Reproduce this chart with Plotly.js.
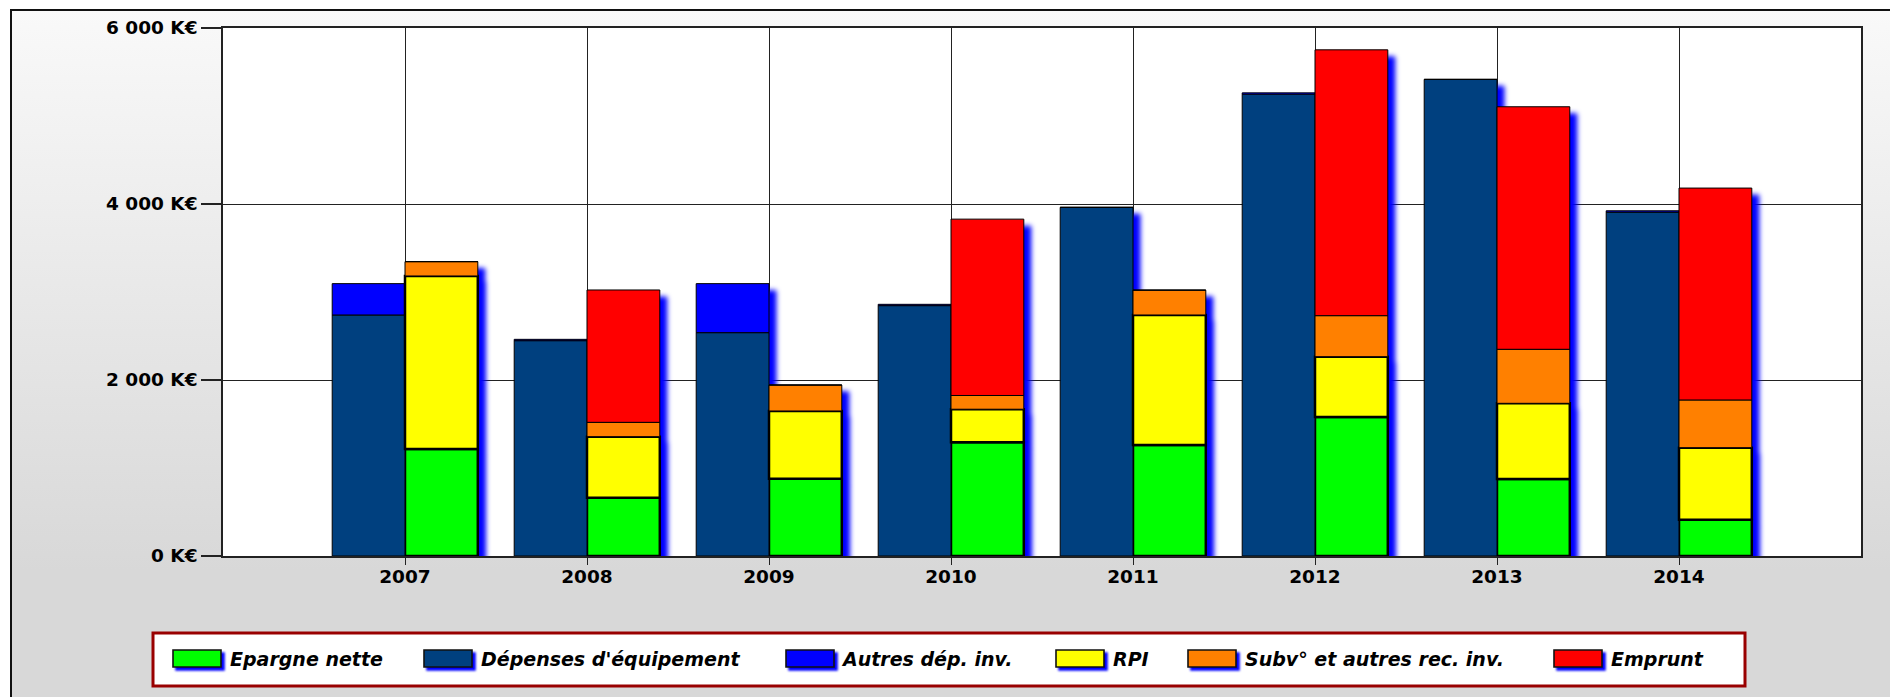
<!DOCTYPE html>
<html>
<head>
<meta charset="utf-8">
<script src="https://cdn.plot.ly/plotly-3.0.1.min.js"></script>
<style>
  html, body { margin:0; padding:0; background:#ffffff; overflow:hidden; width:1890px; height:697px; }
  #frame { position:absolute; left:10px; top:9px; width:1880px; height:688px; box-sizing:border-box;
           border-left:2px solid #111; border-top:2px solid #111;
           background:linear-gradient(to bottom, #f9f9f9 0px, #d8d8d8 560px, #d8d8d8 100%); }
  #chart { position:absolute; left:0; top:0; width:1890px; height:697px; }
  .cartesianlayer .plot, .barlayer .trace, .barlayer .points { clip-path:none !important; }
  .barlayer { filter: drop-shadow(7px 7px 2.5px #0000ff); }
  .legendsymbols { display:none; }
  .layer-above .shapelayer path { filter: drop-shadow(3px 3px 1px #0000ff); }
</style>
</head>
<body>
<div id="frame"></div>
<div id="chart"></div>
<script>
const years = ['2007','2008','2009','2010','2011','2012','2013','2014'];
const epargneNette = [1216, 663, 879, 1294, 1261, 1580, 874, 412];
const depensesEquipement = [2739, 2447, 2538, 2845, 3962, 5248, 5416, 3908];
const autresDepInv = [356, 15, 557, 15, 0, 15, 0, 15];
const rpi = [1966, 693, 769, 374, 1478, 685, 861, 819];
const subvAutresRec = [163, 163, 295, 156, 282, 466, 614, 542];
const emprunt = [0, 1504, 0, 2004, 0, 3021, 2756, 2408];

const yTickVals = [0, 2000, 4000, 6000];
const yTickText = ['0 K€', '2 000 K€', '4 000 K€', '6 000 K€'];

const addArr = (a, b) => a.map((v, i) => v + b[i]);
const zeros = years.map(() => 0);
const baseRpi = epargneNette.slice();
const baseSubv = addArr(baseRpi, rpi);
const baseEmprunt = addArr(baseSubv, subvAutresRec);

const W = 0.4;
function bar(name, y, base, offset, color, lw, legend) {
  return {
    type: 'bar', name: name, x: years, y: y, base: base, offset: offset, width: W,
    marker: { color: color, line: { color: '#000000', width: lw } },
    legend: legend, hoverinfo: 'skip'
  };
}

const traces = [
  bar('Epargne nette', epargneNette, zeros, 0, '#00ff00', 2.5, 'legend'),
  bar("Dépenses d'équipement", depensesEquipement, zeros, -W, '#00407f', 1, 'legend2'),
  bar('Autres dép. inv.', autresDepInv, depensesEquipement, -W, '#0000ff', 1, 'legend3'),
  bar('RPI', rpi, baseRpi, 0, '#ffff00', 2.5, 'legend4'),
  bar('Subv° et autres rec. inv.', subvAutresRec, baseSubv, 0, '#ff8000', 1, 'legend5'),
  bar('Emprunt', emprunt, baseEmprunt, 0, '#ff0000', 1, 'legend6')
];

const plotL = 223, plotR = 1861, plotT = 28, plotB = 556;
const pw = plotR - plotL, ph = plotB - plotT;
const px2x = p => (p - plotL) / pw;
const px2y = p => (plotB - p) / ph;

const legendFont = { family: 'DejaVu Sans', size: 19, color: '#000', weight: 'bold', style: 'italic' };
const swatchLefts = [173, 424, 786, 1056, 1188, 1554];
function legendAt(px) {
  return {
    x: px2x(px - 9), xanchor: 'left', y: px2y(658.5), yanchor: 'middle',
    bgcolor: 'rgba(0,0,0,0)', borderwidth: 0, font: legendFont,
    itemwidth: 56, orientation: 'h', itemclick: false, itemdoubleclick: false
  };
}

// legend frame + wide colour swatches (one per series, in legend order)
const legendShapes = [{
  type: 'rect', xref: 'paper', yref: 'paper', layer: 'below',
  x0: px2x(153), x1: px2x(1745), y0: px2y(686), y1: px2y(633),
  line: { color: '#990000', width: 3 }, fillcolor: '#ffffff'
}].concat(traces.map(function (tr, i) {
  return {
    type: 'rect', xref: 'paper', yref: 'paper', layer: 'above',
    x0: px2x(swatchLefts[i]), x1: px2x(swatchLefts[i] + 48),
    y0: px2y(667), y1: px2y(650),
    line: { color: '#111111', width: 1.6 }, fillcolor: tr.marker.color
  };
}));

const layout = {
  width: 1890, height: 697,
  margin: { l: plotL, r: 1890 - plotR, t: plotT, b: 697 - plotB, pad: 0, autoexpand: false },
  paper_bgcolor: 'rgba(0,0,0,0)', plot_bgcolor: '#ffffff',
  barmode: 'overlay',
  font: { family: 'DejaVu Sans', size: 18, color: '#000' },
  showlegend: true,
  xaxis: {
    type: 'category', range: [-1, years.length], fixedrange: true,
    showgrid: true, gridcolor: '#222', gridwidth: 1.2,
    showline: true, linecolor: '#222', linewidth: 1.5, mirror: true,
    ticks: 'outside', ticklen: 7, tickcolor: '#222', tickwidth: 1.2,
    ticklabelstandoff: -4,
    tickfont: { family: 'DejaVu Sans', size: 18.5, weight: 'bold', color: '#000' },
    zeroline: false
  },
  yaxis: {
    range: [0, 6000], fixedrange: true,
    tickvals: yTickVals, ticktext: yTickText,
    showgrid: true, gridcolor: '#222', gridwidth: 1.2,
    showline: true, linecolor: '#222', linewidth: 1.5, mirror: true,
    ticks: 'outside', ticklen: 20, tickcolor: '#222', tickwidth: 1.5,
    tickfont: { family: 'DejaVu Sans', size: 18.5, weight: 'bold', color: '#000' },
    zeroline: false
  },
  legend: legendAt(swatchLefts[0]),
  legend2: legendAt(swatchLefts[1]),
  legend3: legendAt(swatchLefts[2]),
  legend4: legendAt(swatchLefts[3]),
  legend5: legendAt(swatchLefts[4]),
  legend6: legendAt(swatchLefts[5]),
  shapes: legendShapes
};

Plotly.newPlot('chart', traces, layout, { displayModeBar: false, responsive: false });
</script>
</body>
</html>
